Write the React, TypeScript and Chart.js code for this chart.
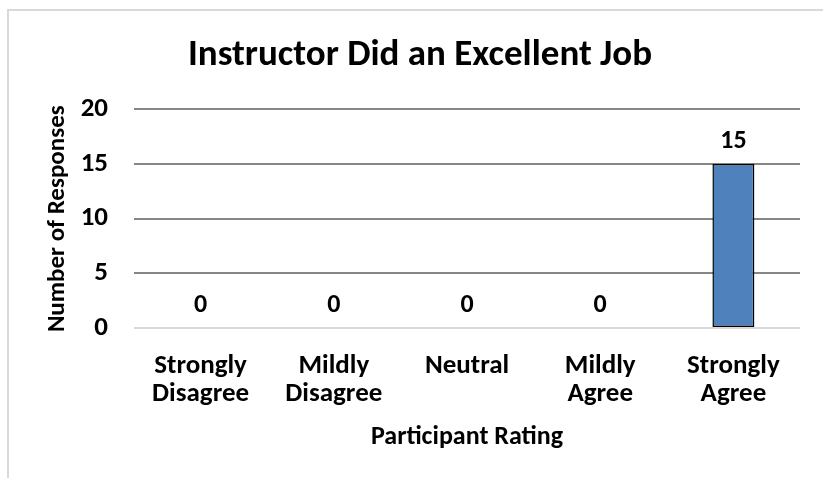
import React, { useEffect, useRef } from "react";
import { Chart, registerables } from "chart.js";

Chart.register(...registerables);

const categories: string[][] = [
  ["Strongly", "Disagree"],
  ["Mildly", "Disagree"],
  ["Neutral"],
  ["Mildly", "Agree"],
  ["Strongly", "Agree"],
];
const responses: number[] = [0, 0, 0, 0, 15];
const yMin = 0;
const yMax = 20;
const yStep = 5;
const chartTitle = "Instructor Did an Excellent Job";
const xTitle = "Participant Rating";
const yTitle = "Number of Responses";

const FONT = "Carlito, 'Liberation Sans Narrow', 'DejaVu Sans Condensed', sans-serif";

const frame = {
  id: "frame",
  beforeDraw(chart: any) {
    const ctx = chart.ctx;
    ctx.save();
    ctx.fillStyle = "#ffffff";
    ctx.fillRect(0, 0, chart.width, chart.height);
    ctx.strokeStyle = "#d9d9d9";
    ctx.lineWidth = 2;
    ctx.strokeRect(8, 10, 2000, 2000);
    ctx.restore();
  },
};

const valueLabels = {
  id: "valueLabels",
  afterDatasetsDraw(chart: any) {
    const ctx = chart.ctx;
    const meta = chart.getDatasetMeta(0);
    ctx.save();
    ctx.font = `bold 26px ${FONT}`;
    ctx.fillStyle = "#000";
    ctx.textAlign = "center";
    ctx.textBaseline = "middle";
    meta.data.forEach((bar: any, i: number) => {
      const v = chart.data.datasets[0].data[i];
      ctx.fillText(String(v), bar.x, bar.y - 23);
    });
    ctx.restore();
  },
};

export default function App() {
  const ref = useRef<HTMLCanvasElement | null>(null);
  useEffect(() => {
    document.body.style.margin = "0";
    if (!ref.current) return;
    const chart = new Chart(ref.current, {
      type: "bar",
      data: {
        labels: categories,
        datasets: [
          {
            data: responses,
            backgroundColor: "#4F81BD",
            borderColor: "#000000",
            borderWidth: 1.5,
            borderSkipped: false,
            barPercentage: 0.315,
            categoryPercentage: 1,
          },
        ],
      },
      options: {
        responsive: false,
        animation: false,
        devicePixelRatio: 1,
        layout: { padding: { left: 40, right: 23, top: 0, bottom: 20 } },
        plugins: {
          legend: { display: false },
          tooltip: { enabled: false },
          title: {
            display: true,
            text: chartTitle,
            color: "#000",
            font: { family: FONT, size: 37, weight: "bold", lineHeight: 1.2 },
            padding: { top: 34, bottom: 31 },
          },
        },
        scales: {
          x: {
            grid: { display: false },
            border: { display: false },
            ticks: {
              color: "#000",
              padding: 16,
              maxRotation: 0,
              autoSkip: false,
              font: { family: FONT, size: 27, weight: "bold", lineHeight: 1.04 },
            },
            title: {
              display: true,
              text: xTitle,
              color: "#000",
              font: { family: FONT, size: 26, weight: "bold", lineHeight: 1.2 },
              padding: { top: 0, bottom: 5 },
            },
            afterFit(scale: any) {
              scale.height = 130;
            },
          },
          y: {
            min: yMin,
            max: yMax,
            border: { display: false },
            grid: {
              drawTicks: false,
              lineWidth: 2,
              color: (c: any) => (c.tick && c.tick.value === 0 ? "#d9d9d9" : "#868686"),
            },
            ticks: {
              stepSize: yStep,
              color: "#000",
              padding: 26,
              font: { family: FONT, size: 27, weight: "bold" },
            },
            title: {
              display: true,
              text: yTitle,
              color: "#000",
              font: { family: FONT, size: 25, weight: "bold", lineHeight: 1.2 },
              padding: { top: 3, bottom: 0 },
            },
            afterFit(scale: any) {
              scale.width = 94;
            },
          },
        },
      },
      plugins: [frame, valueLabels],
    });
    return () => chart.destroy();
  }, []);
  return <canvas ref={ref} width={823} height={478} style={{ display: "block" }} />;
}
